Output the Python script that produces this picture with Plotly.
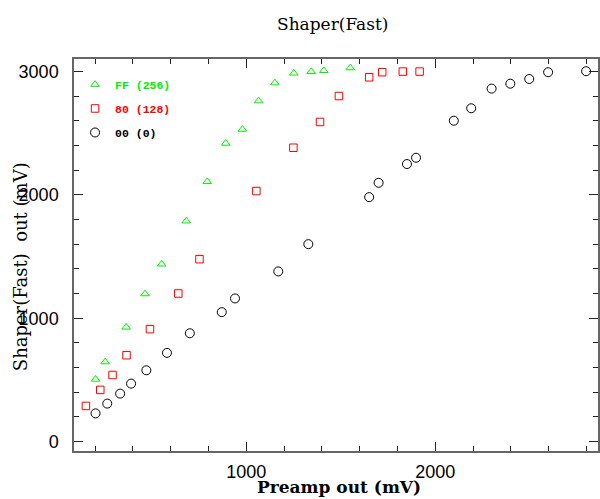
import plotly.graph_objects as go

# Preamp output (mV) vs fast-shaper output (mV) for three shaper settings
ff_x = [202, 253, 364, 464, 552, 682, 793, 891, 979, 1065, 1151, 1251, 1343, 1410, 1550]
ff_y = [505, 646, 927, 1197, 1438, 1787, 2106, 2417, 2530, 2760, 2906, 2985, 2998, 3006, 3028]

h80_x = [151, 227, 292, 366, 490, 640, 752, 1053, 1249, 1390, 1490, 1650, 1719, 1828, 1917]
h80_y = [289, 419, 540, 700, 911, 1200, 1478, 2030, 2381, 2590, 2800, 2952, 2993, 2998, 2998]

h00_x = [202, 264, 332, 390, 471, 580, 701, 870, 940, 1169, 1328, 1650, 1700, 1850, 1898,
         2098, 2190, 2298, 2397, 2497, 2597, 2798]
h00_y = [229, 308, 389, 470, 578, 719, 878, 1049, 1160, 1379, 1600, 1981, 2097, 2249, 2300,
         2600, 2701, 2860, 2900, 2938, 2993, 3001]

series = [
    ("FF (256)", ff_x, ff_y, "triangle-up-open", "#00ee00", 7.5),
    ("80 (128)", h80_x, h80_y, "square-open", "#ff0000", 7.5),
    ("00 (0)", h00_x, h00_y, "circle-open", "#000000", 9),
]

fig = go.Figure()
for name, xs, ys, sym, col, sz in series:
    fig.add_trace(go.Scatter(
        x=xs, y=ys, mode="markers", legendgroup=name,
        name=f"<b><span style='color:{col}'>{name}</span></b>",
        marker=dict(symbol=sym, size=sz, color=col, line=dict(width=1, color=col)),
    ))

axis_common = dict(
    showgrid=False, zeroline=False, showline=True, linecolor="#666666", linewidth=1.5,
    mirror="ticks", ticks="inside", ticklen=9, tickwidth=1, tickcolor="#222222",
    tickfont=dict(family="Liberation Sans", size=18, color="#000000"),
    dtick=1000, tick0=0,
    minor=dict(ticks="inside", ticklen=5, tickwidth=1, tickcolor="#222222", dtick=200, showgrid=False),
)

fig.update_xaxes(range=[88, 2861], ticklabelstandoff=4, **axis_common)
fig.update_yaxes(range=[-76, 3100], ticklabelstandoff=10, **axis_common)

fig.add_annotation(text="Shaper(Fast)", xref="paper", yref="paper",
                   x=(333 - 74) / 526, y=1 + (59 - 24) / 392, showarrow=False,
                   font=dict(family="DejaVu Serif", size=17, color="#000000"),
                   xanchor="center", yanchor="middle")
fig.add_annotation(text="<b>Preamp out (mV)</b>", xref="paper", yref="paper",
                   x=(340 - 74) / 526, y=-(487 - 451) / 392, showarrow=False,
                   font=dict(family="DejaVu Serif", size=17, color="#000000"),
                   xanchor="center", yanchor="middle")
fig.add_annotation(text="Shaper(Fast)  out (mV)", xref="paper", yref="paper",
                   x=-(74 - 20) / 526, y=(451 - 267) / 392, showarrow=False, textangle=-90,
                   font=dict(family="DejaVu Serif", size=18, color="#000000"),
                   xanchor="center", yanchor="middle")

fig.update_layout(
    width=600, height=499,
    margin=dict(l=74, r=0, t=59, b=48),
    paper_bgcolor="#ffffff", plot_bgcolor="#ffffff",
    showlegend=True,
    legend=dict(x=0.002, y=0.972, xanchor="left", yanchor="top",
                bgcolor="rgba(0,0,0,0)", borderwidth=0, tracegroupgap=5,
                font=dict(family="Liberation Mono", size=11.5),
                traceorder="grouped"),
)

fig.write_html("out.html")
